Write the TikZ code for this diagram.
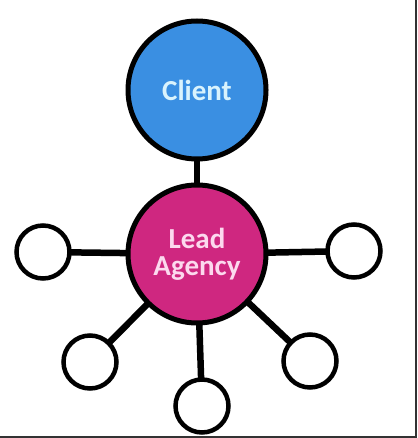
\documentclass[tikz,border=0pt]{standalone}
\usepackage{fontspec}
\setmainfont{Carlito}
\usetikzlibrary{backgrounds}
\definecolor{clientblue}{HTML}{3A8FE2}
\definecolor{leadmag}{HTML}{CF2780}
\definecolor{framegray}{HTML}{333333}
\tikzset{
  x=1pt, y=-1pt,
  bigcirc/.style={circle, draw=black, line width=5pt, minimum size=138pt, inner sep=0pt, align=center, font=\fontsize{29}{27}\selectfont\bfseries},
  smallcirc/.style={circle, draw=black, line width=4.5pt, fill=white, minimum size=53pt, inner sep=0pt},
  link/.style={line width=6.5pt, draw=black}
}
\begin{document}
\begin{tikzpicture}
\useasboundingbox (0,0) rectangle (417,438);
\fill[framegray] (415,0) rectangle (417,438);
\fill[framegray] (0,436) rectangle (417,438);
\node[bigcirc, fill=clientblue, text=white!85!cyan] (client) at (197,90) {Client};
\node[bigcirc, fill=leadmag, text=white!85!magenta] (lead) at (197,254) {Lead\\Agency};
\node[smallcirc] (w) at (43,252) {};
\node[smallcirc] (e) at (354,251) {};
\node[smallcirc] (sw) at (90,362) {};
\node[smallcirc] (se) at (310,361) {};
\node[smallcirc] (s) at (202,406) {};
\begin{scope}[on background layer]
\draw[link] (client.center) -- (lead.center);
\draw[link] (lead.center) -- (w.center);
\draw[link] (lead.center) -- (e.center);
\draw[link] (lead.center) -- (sw.center);
\draw[link] (lead.center) -- (se.center);
\draw[link] (lead.center) -- (s.center);
\end{scope}
\end{tikzpicture}
\end{document}
